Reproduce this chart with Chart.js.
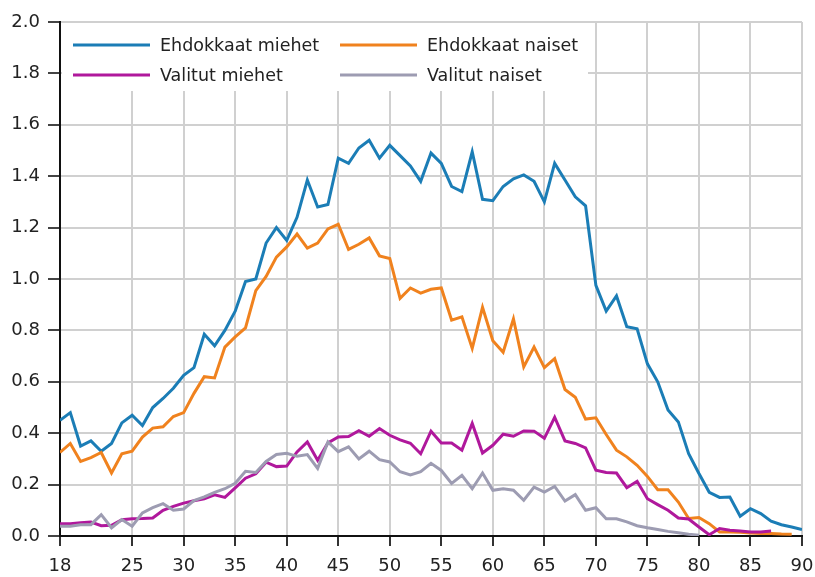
<!DOCTYPE html>
<html>
<head>
<meta charset="utf-8">
<script src="https://cdn.jsdelivr.net/npm/chart.js@4.4.0/dist/chart.umd.min.js"></script>
<style>
  body { margin: 0; background: #fff; }
</style>
</head>
<body>
<canvas id="ehdokkaat" width="815" height="577"></canvas>
<script>
// Ikä (vuotta)
const ages = [18, 19, 20, 21, 22, 23, 24, 25, 26, 27, 28, 29, 30, 31, 32, 33, 34, 35, 36, 37, 38, 39,
  40, 41, 42, 43, 44, 45, 46, 47, 48, 49, 50, 51, 52, 53, 54, 55, 56, 57, 58, 59, 60, 61,
  62, 63, 64, 65, 66, 67, 68, 69, 70, 71, 72, 73, 74, 75, 76, 77, 78, 79, 80, 81, 82, 83,
  84, 85, 86, 87, 88, 89, 90];
const xTicks = [18, 25, 30, 35, 40, 45, 50, 55, 60, 65, 70, 75, 80, 85, 90];

const ehdokkaatMiehet = [0.45, 0.48, 0.35, 0.37, 0.33, 0.36, 0.44, 0.47, 0.43, 0.50, 0.535, 0.575,
  0.625, 0.655, 0.785, 0.74, 0.80, 0.875, 0.99, 1.0, 1.14, 1.20, 1.15, 1.24, 1.385, 1.28, 1.29,
  1.47, 1.45, 1.51, 1.54, 1.47, 1.52, 1.48, 1.44, 1.38, 1.49, 1.45, 1.36, 1.34, 1.495, 1.31,
  1.305, 1.36, 1.39, 1.405, 1.38, 1.30, 1.45, 1.385, 1.32, 1.285, 0.975, 0.875, 0.934, 0.814,
  0.806, 0.67, 0.60, 0.49, 0.444, 0.32, 0.243, 0.17, 0.15, 0.152, 0.077, 0.106, 0.087, 0.058,
  0.044, 0.035, 0.025];
const ehdokkaatNaiset = [0.325, 0.36, 0.29, 0.305, 0.325, 0.245, 0.32, 0.33, 0.385, 0.42, 0.425,
  0.465, 0.48, 0.555, 0.62, 0.615, 0.735, 0.775, 0.81, 0.955, 1.01, 1.085, 1.125, 1.175, 1.12,
  1.14, 1.195, 1.213, 1.115, 1.135, 1.16, 1.09, 1.08, 0.925, 0.965, 0.945, 0.96, 0.965, 0.84,
  0.853, 0.73, 0.89, 0.76, 0.715, 0.845, 0.658, 0.735, 0.655, 0.69, 0.57, 0.54, 0.455, 0.46,
  0.395, 0.334, 0.308, 0.275, 0.232, 0.18, 0.18, 0.132, 0.068, 0.072, 0.048, 0.016, 0.016,
  0.015, 0.012, 0.01, 0.01, 0.008, 0.007];
const valitutMiehet = [0.048, 0.048, 0.052, 0.054, 0.04, 0.042, 0.063, 0.067, 0.068, 0.07, 0.10,
  0.115, 0.128, 0.137, 0.145, 0.16, 0.15, 0.187, 0.225, 0.242, 0.287, 0.27, 0.272, 0.327, 0.366,
  0.295, 0.362, 0.385, 0.387, 0.41, 0.388, 0.418, 0.392, 0.374, 0.361, 0.32, 0.408, 0.362, 0.362,
  0.334, 0.438, 0.323, 0.353, 0.396, 0.388, 0.409, 0.408, 0.38, 0.462, 0.37, 0.36, 0.343, 0.256,
  0.247, 0.245, 0.188, 0.213, 0.145, 0.122, 0.10, 0.07, 0.066, 0.035, 0.005, 0.029, 0.022, 0.019,
  0.016, 0.016, 0.019];
const valitutNaiset = [0.038, 0.038, 0.044, 0.044, 0.083, 0.032, 0.064, 0.038, 0.09, 0.11, 0.126,
  0.10, 0.105, 0.138, 0.152, 0.17, 0.184, 0.205, 0.252, 0.247, 0.29, 0.317, 0.322, 0.31, 0.317,
  0.263, 0.366, 0.328, 0.347, 0.30, 0.33, 0.297, 0.288, 0.25, 0.238, 0.25, 0.283, 0.255, 0.205,
  0.236, 0.184, 0.245, 0.178, 0.184, 0.178, 0.139, 0.19, 0.171, 0.193, 0.136, 0.161, 0.10, 0.11,
  0.067, 0.067, 0.055, 0.04, 0.032, 0.025, 0.018, 0.013, 0.007, 0.003];

const pisteet = (arvot) => arvot.map((y, i) => ({ x: ages[i], y: y }));

const sarja = (nimi, arvot, vari, jarjestys) => ({
  label: nimi,
  data: pisteet(arvot),
  borderColor: vari,
  backgroundColor: vari,
  borderWidth: 3,
  pointRadius: 0,
  tension: 0,
  order: jarjestys
});

// selite kuvaajan sisällä, valkoisella pohjalla
const selite = {
  id: 'selite',
  afterDraw(chart) {
    const ctx = chart.ctx;
    const a = chart.chartArea;
    ctx.save();
    ctx.fillStyle = '#ffffff';
    ctx.fillRect(a.left + 2, a.top + 1, 526, 68);
    ctx.font = '17.5px "DejaVu Sans"';
    ctx.textBaseline = 'middle';
    chart.data.datasets.forEach((ds, i) => {
      const x = a.left + 13 + (i % 2) * 267;
      const y = a.top + 23 + Math.floor(i / 2) * 30;
      ctx.strokeStyle = ds.borderColor;
      ctx.lineWidth = 3;
      ctx.beginPath();
      ctx.moveTo(x, y);
      ctx.lineTo(x + 77, y);
      ctx.stroke();
      ctx.fillStyle = '#222';
      ctx.fillText(ds.label, x + 87, y + 1);
    });
    ctx.restore();
  }
};

const ctx = document.getElementById('ehdokkaat').getContext('2d');
const chart = new Chart(ctx, {
  type: 'line',
  data: {
    datasets: [
      sarja('Ehdokkaat miehet', ehdokkaatMiehet, '#1b7db6', 3),
      sarja('Ehdokkaat naiset', ehdokkaatNaiset, '#f0821e', 2),
      sarja('Valitut miehet', valitutMiehet, '#b0189c', 1),
      sarja('Valitut naiset', valitutNaiset, '#9d9cb2', 0)
    ]
  },
  options: {
    responsive: false,
    animation: false,
    layout: { padding: { top: 22, right: 13, left: 0, bottom: 0 } },
    plugins: {
      legend: { display: false },
      tooltip: { enabled: false }
    },
    scales: {
      x: {
        type: 'linear',
        min: 18,
        max: 90,
        afterBuildTicks: (scale) => { scale.ticks = xTicks.map(v => ({ value: v })); },
        afterFit: (scale) => {
          scale.height = 41;
          scale.paddingLeft = 0;
          scale.paddingRight = 0;
        },
        grid: { color: '#d0d0d0', lineWidth: 2, tickColor: '#333', tickLength: 10 },
        border: { color: '#111', width: 2 },
        ticks: {
          color: '#222',
          font: { family: 'DejaVu Sans', size: 18 },
          padding: 10,
          maxRotation: 0,
          autoSkip: false
        }
      },
      y: {
        min: 0,
        max: 2,
        afterFit: (scale) => { scale.width = 60; },
        grid: { color: '#d0d0d0', lineWidth: 2, tickColor: '#444', tickLength: 12 },
        border: { color: '#111', width: 2 },
        ticks: {
          stepSize: 0.2,
          color: '#222',
          font: { family: 'DejaVu Sans', size: 18 },
          padding: 8,
          callback: (v) => v.toFixed(1)
        }
      }
    }
  },
  plugins: [selite]
});
</script>
</body>
</html>
